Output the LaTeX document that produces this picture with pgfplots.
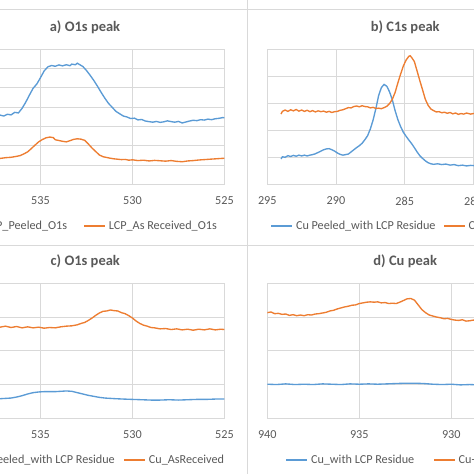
\documentclass[border=0pt]{standalone}
\usepackage{fontspec}
\setmainfont{Carlito}
\usepackage{pgfplots}
\pgfplotsset{compat=1.18}

\definecolor{xlblue}{HTML}{5B9BD5}
\definecolor{xlorange}{HTML}{ED7D31}
\definecolor{txtgray}{HTML}{595959}
\definecolor{gridgray}{HTML}{D9D9D9}

\newcommand{\tickfont}{\fontsize{12.2}{14}\selectfont}
\newcommand{\titlefont}{\fontsize{14.5}{17}\selectfont\bfseries}

\pgfplotsset{
  xps/.style={
    scale only axis,
    height=135pt,
    x dir=reverse,
    ymin=0,
    axis line style={draw=gridgray, line width=0.8pt},
    grid=major,
    major grid style={draw=gridgray, line width=0.8pt},
    major tick length=0pt,
    yticklabels={},
    /pgf/number format/assume math mode=true,
    xticklabel style={font=\tickfont, text=txtgray, yshift=-9pt},
    title style={font=\titlefont, text=txtgray, anchor=center},
    legend columns=2,
    legend style={draw=none, fill=none, font=\tickfont, text=txtgray,
      inner sep=0pt, nodes={inner sep=0pt},
      /tikz/every odd column/.style={column sep=3pt}},
    legend image code/.code={\draw[#1, line width=1.1pt] (0pt,0pt) -- (21pt,0pt);},
    every axis plot/.append style={line width=1.35pt},
  }
}

\begin{document}
\begin{tikzpicture}
\useasboundingbox (0pt,0pt) rectangle (474pt,474pt);
\clip (0pt,0pt) rectangle (474pt,474pt);

% chart borders
\draw[gridgray, line width=0.8pt] (0pt,465pt) -- (474pt,465pt);
\draw[gridgray, line width=0.8pt] (0pt,229pt) -- (474pt,229pt);
\draw[gridgray, line width=0.8pt] (247pt,0pt) -- (247pt,474pt);

% a) O1s peak
\begin{axis}[xps, at={(-51.5pt,289.7pt)}, anchor=south west, width=276pt,
  xmin=525, xmax=540, xtick={525,530,535,540},
  ymax=70, ytick={0,10,...,70},
  title={a) O1s peak}, title style={at={(0.4946,1.12)}},
  legend style={at={(0.9728,-0.309)}, anchor=east,
    /tikz/every even column/.style={column sep=16.6pt}}]
\addplot[xlblue, mark=none] coordinates {
(540.0,35.2) (539.6,35.8) (539.2,35.0) (538.8,35.6) (538.4,35.1) (538.0,35.7)
(537.6,35.3) (537.2,35.9) (537.0,35.4) (536.8,36.3) (536.6,36.0) (536.4,37.3)
(536.2,37.0) (536.0,39.4) (535.8,42.6) (535.6,46.3) (535.4,49.8) (535.2,52.0)
(535.0,55.3) (534.8,58.8) (534.6,60.9) (534.4,61.6) (534.2,61.2) (534.0,61.9)
(533.8,61.4) (533.6,62.0) (533.4,61.5) (533.3,62.3) (533.1,62.0) (533.0,62.8)
(532.9,62.2) (532.7,61.1) (532.5,59.0) (532.3,56.5) (532.1,53.8) (531.9,50.8)
(531.7,47.6) (531.5,44.6) (531.3,41.9) (531.1,39.9) (530.9,37.8) (530.7,36.6)
(530.5,35.4) (530.3,34.9) (530.1,34.1) (529.9,34.3) (529.7,33.4) (529.5,33.6)
(529.3,32.8) (529.1,32.5) (528.9,32.2) (528.7,32.6) (528.5,32.1) (528.3,32.4)
(528.1,32.9) (527.9,32.5) (527.7,32.2) (527.5,32.6) (527.3,31.8) (527.1,32.3)
(526.9,32.8) (526.7,33.2) (526.5,33.0) (526.3,33.5) (526.1,33.3) (525.9,33.8)
(525.7,33.5) (525.5,34.0) (525.3,34.2) (525.1,34.6) (525.0,34.5)
};
\addlegendentry{LCP\_Peeled\_O1s}
\addplot[xlorange, mark=none] coordinates {
(540.0,13.2) (539.5,13.6) (539.0,13.1) (538.5,13.5) (538.0,13.2) (537.6,13.6)
(537.2,13.4) (536.9,13.8) (536.6,14.0) (536.3,14.5) (536.1,14.9) (535.9,15.8)
(535.7,16.8) (535.5,18.5) (535.3,20.3) (535.1,22.0) (534.9,23.2) (534.7,24.1)
(534.5,24.5) (534.3,24.2) (534.2,23.1) (534.0,22.7) (533.8,22.3) (533.6,22.0)
(533.4,22.6) (533.2,23.3) (533.0,23.6) (532.8,23.4) (532.6,22.8) (532.4,20.9)
(532.2,18.8) (532.0,17.0) (531.8,15.2) (531.6,14.3) (531.4,13.9) (531.2,13.5)
(531.0,13.2) (530.8,13.0) (530.6,12.8) (530.4,12.9) (530.2,12.5) (530.0,12.7)
(529.7,12.3) (529.4,12.5) (529.1,12.1) (528.8,12.4) (528.5,12.2) (528.2,12.0)
(527.9,12.3) (527.6,11.9) (527.3,11.7) (527.0,12.1) (526.7,12.3) (526.4,12.6)
(526.1,12.8) (525.8,13.0) (525.5,13.2) (525.2,13.4) (525.0,13.5)
};
\addlegendentry{LCP\_As Received\_O1s}
\end{axis}

% b) C1s peak
\begin{axis}[xps, at={(267.3pt,289.7pt)}, anchor=south west, width=274.8pt,
  xmin=275, xmax=295, xtick={275,280,...,295},
  ymax=50, ytick={0,10,...,50},
  title={b) C1s peak}, title style={at={(0.502,1.12)}},
  legend style={at={(0.0124,-0.309)}, anchor=west,
    /tikz/every even column/.style={column sep=8pt}}]
\addplot[xlblue, mark=none] coordinates {
(294.0,9.4) (293.9,10.2) (293.7,10.0) (293.5,10.6) (293.3,10.3) (293.1,10.7)
(292.9,10.4) (292.7,10.8) (292.5,10.5) (292.3,10.8) (292.1,10.5) (291.9,10.8)
(291.7,11.0) (291.5,11.3) (291.3,11.8) (291.1,12.3) (290.9,12.8) (290.7,13.1)
(290.5,13.2) (290.3,12.8) (290.1,12.3) (289.9,11.6) (289.7,11.1) (289.5,10.8)
(289.3,11.0) (289.1,11.2) (288.9,12.0) (288.7,12.8) (288.5,13.6) (288.3,14.3)
(288.1,15.2) (287.9,16.5) (287.7,18.0) (287.5,20.5) (287.3,23.8) (287.1,28.0)
(286.9,32.8) (286.7,35.8) (286.5,37.0) (286.3,36.3) (286.1,34.2) (285.9,31.3)
(285.7,27.3) (285.5,24.0) (285.3,21.4) (285.1,19.3) (284.9,17.8) (284.7,16.4)
(284.5,15.1) (284.3,13.6) (284.1,12.0) (283.9,10.6) (283.7,9.6) (283.5,8.7)
(283.3,8.0) (283.1,7.6) (282.9,7.4) (282.6,7.6) (282.3,7.3) (282.0,7.5)
(281.7,7.1) (281.4,7.3) (281.1,6.9) (280.8,7.1) (280.5,6.8) (280.2,7.0)
(279.9,6.9) (279.5,7.1) (279.0,6.8) (278.5,7.0) (278.0,6.7) (277.5,6.9)
(277.0,6.8) (276.5,7.0) (276.0,6.7) (275.5,6.9) (275.0,6.8)
};
\addlegendentry{Cu Peeled\_with LCP Residue}
\addplot[xlorange, mark=none] coordinates {
(294.0,26.0) (293.9,27.0) (293.7,27.5) (293.5,27.0) (293.3,27.6) (293.1,27.2)
(292.9,27.7) (292.7,27.1) (292.5,27.5) (292.3,27.0) (292.1,27.4) (291.9,26.9)
(291.7,27.3) (291.5,26.8) (291.3,27.2) (291.1,26.9) (290.9,27.1) (290.7,26.7)
(290.5,27.0) (290.3,26.6) (290.1,26.9) (289.9,27.0) (289.7,27.4) (289.5,27.6)
(289.3,28.0) (289.1,28.4) (288.9,28.3) (288.7,28.8) (288.5,29.0) (288.3,28.7)
(288.1,29.1) (287.9,28.8) (287.7,28.7) (287.5,28.3) (287.3,28.5) (287.1,28.1)
(286.9,28.2) (286.7,28.0) (286.5,28.4) (286.3,28.9) (286.1,29.9) (285.9,31.5)
(285.7,34.0) (285.5,37.5) (285.3,40.8) (285.1,43.8) (284.9,46.0) (284.7,47.4)
(284.6,47.6) (284.5,47.0) (284.3,45.5) (284.1,42.0) (283.9,38.4) (283.7,35.0)
(283.5,31.5) (283.3,29.3) (283.1,27.9) (282.9,27.3) (282.7,26.8) (282.5,26.9)
(282.3,26.5) (282.1,26.7) (281.9,26.3) (281.7,26.6) (281.5,26.1) (281.3,26.4)
(281.1,25.9) (280.9,26.2) (280.7,26.0) (280.5,26.4) (280.2,26.0) (279.9,26.3)
(279.5,26.0) (279.0,26.2) (278.5,25.9) (278.0,26.1) (277.5,25.8) (277.0,26.1)
(276.5,25.9) (276.0,26.0) (275.5,25.8) (275.0,26.0)
};
\addlegendentry{Cu\_AsReceived}
\end{axis}

% c) O1s peak
\begin{axis}[xps, at={(-51.5pt,55.7pt)}, anchor=south west, width=276pt,
  xmin=525, xmax=540, xtick={525,530,535,540},
  ymax=40, ytick={0,10,...,40},
  title={c) O1s peak}, title style={at={(0.4957,1.12)}},
  legend style={at={(0.9993,-0.309)}, anchor=east,
    /tikz/every even column/.style={column sep=9pt}}]
\addplot[xlblue, mark=none] coordinates {
(540.0,5.7) (539.5,5.8) (539.0,5.7) (538.5,5.8) (538.0,5.8) (537.5,5.9)
(537.2,5.8) (536.9,5.9) (536.6,6.0) (536.3,6.3) (536.0,6.7) (535.7,7.2)
(535.4,7.6) (535.1,7.8) (534.8,7.9) (534.5,7.9) (534.2,7.9) (533.9,8.0)
(533.6,8.1) (533.3,8.0) (533.0,7.6) (532.7,7.2) (532.4,6.8) (532.1,6.5)
(531.8,6.2) (531.5,6.0) (531.2,5.9) (530.9,5.8) (530.5,5.7) (530.0,5.6)
(529.5,5.5) (529.0,5.4) (528.5,5.4) (528.0,5.5) (527.5,5.4) (527.0,5.5)
(526.5,5.6) (526.0,5.6) (525.5,5.7) (525.0,5.7)
};
\addlegendentry{Cu Peeled\_with LCP Residue}
\addplot[xlorange, mark=none] coordinates {
(540.0,27.0) (539.5,27.3) (539.0,26.9) (538.5,27.2) (538.0,26.9) (537.5,27.2)
(537.2,27.0) (536.9,27.3) (536.6,26.9) (536.3,27.2) (536.0,26.8) (535.7,27.1)
(535.4,26.8) (535.1,27.0) (534.8,26.7) (534.5,26.9) (534.2,26.8) (533.9,27.1)
(533.6,27.3) (533.3,27.4) (533.0,27.7) (532.8,28.1) (532.6,28.4) (532.4,29.0)
(532.2,29.7) (532.0,30.5) (531.8,31.2) (531.6,31.7) (531.4,31.8) (531.2,32.1)
(531.0,31.9) (530.8,31.8) (530.6,31.3) (530.4,31.0) (530.2,30.4) (530.0,29.7)
(529.8,28.8) (529.6,28.1) (529.4,27.6) (529.2,27.3) (529.0,26.9) (528.8,26.8)
(528.5,26.5) (528.2,26.6) (527.9,26.3) (527.6,26.5) (527.3,26.2) (527.0,26.4)
(526.7,26.1) (526.4,26.4) (526.1,26.2) (525.8,26.5) (525.5,26.2) (525.2,26.4)
(525.0,26.3)
};
\addlegendentry{Cu\_AsReceived}
\end{axis}

% d) Cu peak
\begin{axis}[xps, at={(267.3pt,55.7pt)}, anchor=south west, width=276pt,
  xmin=925, xmax=940, xtick={925,930,935,940},
  ymax=40, ytick={0,10,...,40},
  title={d) Cu peak}, title style={at={(0.4996,1.12)}},
  legend style={at={(0.0667,-0.309)}, anchor=west,
    /tikz/every even column/.style={column sep=19.3pt}}]
\addplot[xlblue, mark=none] coordinates {
(940.0,10.1) (939.5,10.0) (939.0,10.2) (938.5,10.0) (938.0,10.1) (937.5,10.0)
(937.0,10.2) (936.5,10.1) (936.0,10.0) (935.5,10.2) (935.0,10.1) (934.5,10.2)
(934.0,10.1) (933.5,10.2) (933.0,10.3) (932.5,10.4) (932.0,10.4) (931.5,10.3)
(931.0,10.1) (930.5,10.0) (930.0,10.1) (929.5,9.9) (929.0,10.0) (928.5,9.9)
(928.0,10.0) (927.0,9.9) (926.0,10.0) (925.0,9.9)
};
\addlegendentry{Cu\_with LCP Residue}
\addplot[xlorange, mark=none] coordinates {
(940.0,31.3) (939.8,31.5) (939.6,31.0) (939.4,31.1) (939.2,30.8) (939.0,30.9)
(938.8,30.5) (938.6,30.7) (938.4,30.4) (938.2,30.6) (938.0,30.4) (937.8,30.7)
(937.6,30.6) (937.4,30.9) (937.2,31.0) (937.0,31.2) (936.8,31.4) (936.6,31.8)
(936.4,32.0) (936.2,32.4) (936.0,32.7) (935.8,33.0) (935.6,33.2) (935.4,33.5)
(935.2,33.6) (935.0,34.0) (934.8,34.2) (934.6,34.4) (934.4,34.5) (934.2,34.4)
(934.0,34.5) (933.8,34.2) (933.6,34.3) (933.4,34.0) (933.2,34.1) (933.0,34.0)
(932.8,34.4) (932.6,34.9) (932.4,35.4) (932.2,35.5) (932.0,35.0) (931.8,33.6)
(931.6,32.2) (931.4,31.3) (931.2,30.6) (931.0,30.3) (930.8,30.0) (930.6,29.8)
(930.4,29.5) (930.2,29.6) (930.0,29.3) (929.8,29.1) (929.6,29.0) (929.4,29.2)
(929.2,28.8) (929.0,28.9) (928.8,29.1) (928.5,28.9) (928.0,29.0) (927.5,28.8)
(927.0,28.9) (926.5,28.7) (926.0,28.9) (925.5,28.8) (925.0,28.9)
};
\addlegendentry{Cu-AsReceived}
\end{axis}
\end{tikzpicture}
\end{document}
